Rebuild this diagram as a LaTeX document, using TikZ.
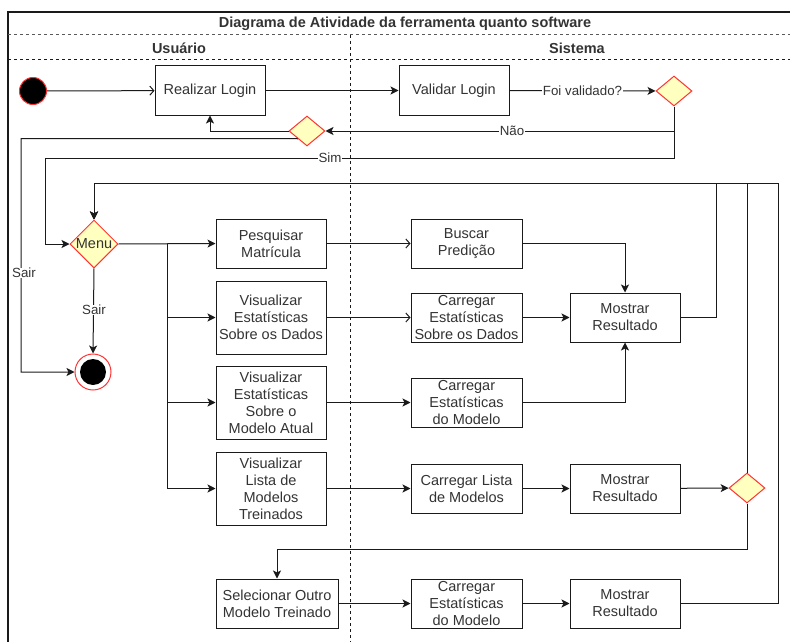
\documentclass[tikz,border=0pt]{standalone}
\usepackage{fontspec}
\setmainfont{Liberation Sans}
\usetikzlibrary{arrows.meta,shapes.geometric}

\definecolor{decfill}{HTML}{FFFFC0}
\definecolor{decline}{HTML}{FF3333}
\definecolor{txt}{HTML}{333333}
\definecolor{ln}{HTML}{1A1A1A}

\begin{document}
\begin{tikzpicture}[x=1pt,y=-1pt,
  font=\fontsize{14.5}{17}\selectfont,
  every node/.style={text=txt},
  box/.style={draw=ln, line width=1pt, fill=white, align=center, inner sep=1pt},
  decision/.style={diamond, draw=decline, fill=decfill, line width=1pt,
    minimum width=36pt, minimum height=30pt, inner sep=0pt},
  flow/.style={draw=ln, line width=1pt, -{Stealth[length=8pt,width=8pt,inset=2pt]}},
  openflow/.style={draw=ln, line width=1pt, -{Straight Barb[length=4pt,width=9pt]}},
  lbl/.style={fill=white, inner sep=0.5pt, font=\fontsize{13.3}{15}\selectfont},
  lane/.style={draw=ln, line width=1pt, dash pattern=on 3pt off 3pt},
]
\useasboundingbox (0,0) rectangle (790,642);

% swimlane frame
\draw[ln, line width=1.3pt] (8,660) -- (8,12) -- (800,12);
\node[font=\fontsize{14.5}{17}\selectfont\bfseries] (title) at (405,23.5)
  {Diagrama de Atividade da ferramenta quanto software};
\draw[lane, draw=black!65] (8,35) -- (800,35);
\node[font=\fontsize{14.5}{17}\selectfont\bfseries] (laneuser) at (179,48) {Usuário};
\node[font=\fontsize{14.5}{17}\selectfont\bfseries] (lanesys) at (577,48) {Sistema};
\draw[lane] (8,60) -- (800,60);
\draw[lane] (350,35) -- (350,660);

% start / end
\node[circle, fill=black, draw=decline, line width=1pt, minimum size=27pt, inner sep=0pt] (start) at (33,91) {};
\node[circle, fill=white, draw=decline, line width=1pt, minimum size=36pt, inner sep=0pt] (final) at (93,372) {};
\node[circle, fill=black, minimum size=26pt, inner sep=0pt] (finaldot) at (final) {};

% login
\node[box, minimum width=110pt, minimum height=49pt] (login) at (210,90.5) {Realizar Login};
\node[box, minimum width=110pt, minimum height=49pt] (validar) at (454,90.5) {Validar Login};
\node[decision] (dec1) at (674,91) {};
\node[decision] (dec0) at (307,131) {};

% menu
\node[decision, minimum width=48pt, minimum height=48pt] (menu) at (94,244) {};
\node (menutext) at (menu) {Menu};

% user actions
\node[box, minimum width=110pt, minimum height=49pt] (pesq) at (271,243.5) {Pesquisar\\Matrícula};
\node[box, minimum width=110pt, minimum height=73pt] (vedados) at (271,317.5) {Visualizar\\Estatísticas\\Sobre os Dados};
\node[box, minimum width=110pt, minimum height=73pt] (vemodelo) at (271,402.5) {Visualizar\\Estatísticas\\Sobre o\\Modelo Atual};
\node[box, minimum width=110pt, minimum height=73pt] (velista) at (271,488.5) {Visualizar\\Lista de\\Modelos\\Treinados};
\node[box, minimum width=122pt, minimum height=49pt] (selec) at (277,603.5) {Selecionar Outro\\Modelo Treinado};

% system actions
\node[box, minimum width=111pt, minimum height=49pt] (busca) at (466.5,243.5) {Buscar\\Predição};
\node[box, minimum width=111pt, minimum height=49pt] (cedados) at (466.5,317.5) {Carregar\\Estatísticas\\Sobre os Dados};
\node[box, minimum width=110pt, minimum height=49pt] (most1) at (625,317.5) {Mostrar\\Resultado};
\node[box, minimum width=111pt, minimum height=49pt] (cemod1) at (466.5,402.5) {Carregar\\Estatísticas\\do Modelo};
\node[box, minimum width=111pt, minimum height=49pt] (clista) at (466.5,488.5) {Carregar Lista\\de Modelos};
\node[box, minimum width=110pt, minimum height=49pt] (most2) at (625,488.5) {Mostrar\\Resultado};
\node[decision] (dec2) at (747,488) {};
\node[box, minimum width=111pt, minimum height=49pt] (cemod2) at (466.5,603.5) {Carregar\\Estatísticas\\do Modelo};
\node[box, minimum width=110pt, minimum height=49pt] (most3) at (625,603.5) {Mostrar\\Resultado};

% routing points
\coordinate (simcorner) at (45,158);
\coordinate (sairtop) at (21,138.5);
\coordinate (br) at (167,244);
\coordinate (loop1) at (716,183);
\coordinate (loop3) at (778,183);
\coordinate (selturn) at (277,549);

% login flow
\draw[openflow] (start) -- (login);
\draw[flow] (login) -- (validar);
\draw[flow] (validar) -- node[lbl] (lblvalid) {Foi validado?} (dec1);
\draw[flow] (dec1.south) |- (dec0.east);
\draw[flow] (dec1.south) |- (simcorner) |- (menu.west);
\draw[flow] (dec0.west) -| (login.south);
\draw[flow] (dec0.south west) -- (sairtop) |- (final.west);
\node[lbl] (lblnao) at (512,131) {Não};
\node[lbl] (lblsim) at (330,158) {Sim};
\node[lbl] (lblsair1) at (24,273) {Sair};

% menu flow
\draw[flow] (menu.south) -- (final.north);
\node[lbl] (lblsair2) at (94,310) {Sair};
\draw[flow] (menu.east) -- (pesq.west);
\draw[flow] (br) |- (vedados.west);
\draw[flow] (br) |- (vemodelo.west);
\draw[flow] (br) |- (velista.west);

% system flow
\draw[openflow] (pesq) -- (busca);
\draw[openflow] (vedados.east |- cedados.west) -- (cedados.west);
\draw[flow] (vemodelo.east |- cemod1.west) -- (cemod1.west);
\draw[flow] (velista.east |- clista.west) -- (clista.west);
\draw[flow] (busca.east) -| (most1.north);
\draw[flow] (cedados) -- (most1);
\draw[flow] (cemod1.east) -| (most1.south);
\draw[flow] (clista) -- (most2);
\draw[flow] (most2) -- (dec2);
\draw[flow] (dec2.south) |- (selturn) -- (selec.north);
\draw[flow] (selec.east |- cemod2.west) -- (cemod2.west);
\draw[flow] (cemod2) -- (most3);

% back to menu
\draw[flow] (most1.east) -| (loop1) -| (menu.north);
\draw[flow] (dec2.north) -- (dec2.north |- loop1) -| (menu.north);
\draw[flow] (most3.east) -| (loop3) -| (menu.north);
\end{tikzpicture}
\end{document}
